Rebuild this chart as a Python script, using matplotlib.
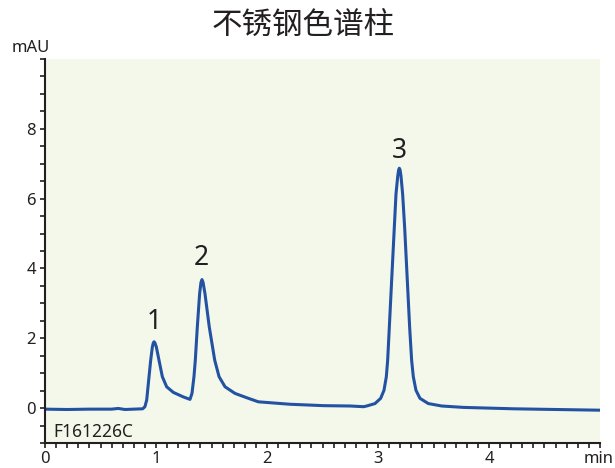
import matplotlib
matplotlib.use('Agg')
import matplotlib.pyplot as plt
from matplotlib.ticker import MultipleLocator, FixedLocator

plt.rcParams['font.family'] = ['Noto Sans', 'Noto Sans CJK SC', 'DejaVu Sans']

# Chromatogram trace (time in min, signal in mAU)
time = [0.0, 0.2, 0.4, 0.6, 0.66, 0.72, 0.88, 0.90, 0.916, 0.937, 0.952, 0.967,
        0.975, 0.982, 0.99, 1.003, 1.027, 1.057, 1.096, 1.156, 1.246, 1.306,
        1.324, 1.342, 1.354, 1.372, 1.393, 1.405, 1.414, 1.424, 1.441, 1.480,
        1.529, 1.568, 1.622, 1.712, 1.832, 1.922, 2.207, 2.51, 2.75, 2.87,
        2.898, 2.973, 3.024, 3.054, 3.075, 3.087, 3.102, 3.117, 3.132, 3.147,
        3.162, 3.178, 3.186, 3.192, 3.199, 3.207, 3.222, 3.240, 3.255, 3.270,
        3.285, 3.303, 3.318, 3.342, 3.378, 3.453, 3.574, 3.77, 4.22, 4.6, 5.0]
signal = [-0.03, -0.04, -0.03, -0.03, -0.01, -0.04, -0.02, 0.04, 0.23, 0.90, 1.37, 1.75,
          1.86, 1.90, 1.87, 1.75, 1.37, 0.90, 0.61, 0.45, 0.32, 0.25,
          0.42, 0.90, 1.37, 2.32, 3.28, 3.60, 3.68, 3.60, 3.28, 2.32,
          1.37, 0.90, 0.61, 0.42, 0.28, 0.18, 0.11, 0.07, 0.06, 0.04,
          0.06, 0.13, 0.28, 0.51, 0.90, 1.37, 2.32, 3.28, 4.23, 5.18,
          6.13, 6.65, 6.82, 6.87, 6.82, 6.65, 6.13, 5.18, 4.23, 3.28,
          2.32, 1.37, 0.90, 0.51, 0.28, 0.13, 0.06, 0.02, -0.02, -0.04, -0.06]

# Peak labels
peak_names = ['1', '2', '3']
peak_t = [0.98, 1.41, 3.19]
peak_y = [2.46, 4.29, 7.37]

x_ticks = [0, 1, 2, 3, 4]
y_ticks = [0, 2, 4, 6, 8]

fig = plt.figure(figsize=(6.15, 4.68), dpi=100)
ax = fig.add_axes([0.0732, 0.0534, 0.9024, 0.8206])
ax.set_facecolor('#F4F8EB')

ax.plot(time, signal, color='#2352A3', linewidth=2.2, solid_joinstyle='round')

for name, t, y in zip(peak_names, peak_t, peak_y):
    ax.text(t, y, name, ha='center', va='center', fontsize=19, color='#231F20')

ax.text(0.072, -0.83, 'F161226C', ha='left', va='baseline', fontsize=12.5, color='#231F20')

ax.set_xlim(0, 5)
ax.set_ylim(-1, 10)

ax.xaxis.set_major_locator(FixedLocator(x_ticks))
ax.xaxis.set_minor_locator(MultipleLocator(0.1))
ax.yaxis.set_major_locator(FixedLocator(y_ticks))
ax.yaxis.set_minor_locator(MultipleLocator(0.5))

ax.tick_params(axis='both', which='both', direction='out', color='#231F20',
               width=1.2, length=3.6, labelsize=12, labelcolor='#231F20')
ax.tick_params(axis='x', which='both', pad=2)
ax.tick_params(axis='y', which='both', pad=3)

for side in ['top', 'right']:
    ax.spines[side].set_visible(False)
for side in ['left', 'bottom']:
    ax.spines[side].set_color('#231F20')
    ax.spines[side].set_linewidth(1.5)

# axis unit labels sit at the ends of the axes
fig.text(31 / 615, 1 - 48 / 468, 'mAU', ha='center', va='center', fontsize=12,
         color='#231F20')
fig.text(614 / 615, 1 - 451 / 468, 'min', ha='right', va='top', fontsize=12,
         color='#231F20')

fig.text(303 / 615, 1 - 25 / 468, '不锈钢色谱柱', ha='center', va='center',
         fontsize=22, color='#231F20', family=['Noto Sans CJK SC', 'DejaVu Sans'])

fig.savefig('out.png', dpi=100)
